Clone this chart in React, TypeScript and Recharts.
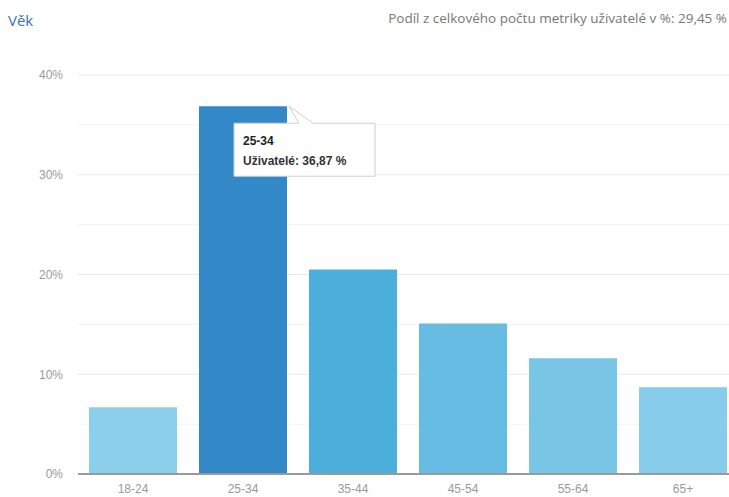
import { Bar, BarChart, CartesianGrid, Cell, LabelList, XAxis, YAxis } from "recharts";

const ageGroups = ["18-24", "25-34", "35-44", "45-54", "55-64", "65+"];
const userShare = [6.7, 36.87, 20.5, 15.1, 11.6, 8.7];
const barColors = ["#8ccfeb", "#3389c7", "#4cafdb", "#66bce2", "#78c5e6", "#87cdeb"];
const yTicks = [0, 10, 20, 30, 40];
const minorLines = [5, 15, 25, 35];
const highlighted = "25-34";

const data = ageGroups.map((g, i) => ({ age: g, value: userShare[i] }));

const FONT = "'Liberation Sans', Arial, sans-serif";

// callout drawn from the bar's own geometry
function Callout(props: any) {
  const { x, y, width, index, value } = props;
  if (ageGroups[index] !== highlighted) return null;
  const tipX = x + width;
  const tipY = y;
  const bx = x + 35;
  const by = y + 17;
  const bw = 141;
  const bh = 53;
  return (
    <g>
      <path
        d={`M${bx},${by} L${tipX + 12},${by} L${tipX + 2},${tipY} L${tipX + 26},${by} L${bx + bw},${by} L${bx + bw},${by + bh} L${bx},${by + bh} Z`}
        fill="#fff"
        stroke="#cfcfcf"
        strokeWidth={1}
      />
      <text x={bx + 9} y={by + 22} fontSize={12} fontWeight="bold" fill="#222" fontFamily={FONT}>
        {ageGroups[index]}
      </text>
      <text x={bx + 9} y={by + 42} fontSize={12} fontWeight="bold" fill="#333" fontFamily={FONT}>
        {`Uživatelé: ${String(value).replace(".", ",")} %`}
      </text>
    </g>
  );
}

export default function App() {
  return (
    <div style={{ position: "relative", width: 729, height: 497, overflow: "hidden", background: "#fff", fontFamily: FONT }}>
      <style>{`body{margin:0}`}</style>
      <div style={{ position: "absolute", left: 8, top: 10, fontSize: 15, color: "#3a72b8", fontFamily: "'Open Sans', sans-serif" }}>
        Věk
      </div>
      <div style={{ position: "absolute", right: 2, top: 9, fontSize: 13.5, color: "#777", fontFamily: "'Open Sans', sans-serif" }}>
        Podíl z celkového počtu metriky uživatelé v %: 29,45 %
      </div>
      <div style={{ position: "absolute", left: 0, top: 0 }}>
        <BarChart width={740} height={497} data={data} margin={{ top: 75, right: 2, left: 0, bottom: 0 }} barCategoryGap="10%">
          <CartesianGrid vertical={false} horizontalValues={minorLines} stroke="#f3f3f3" />
          <CartesianGrid vertical={false} horizontalValues={[10, 20, 30, 40]} stroke="#e8e8e8" />
          <YAxis
            domain={[0, 40]}
            ticks={yTicks}
            width={78}
            tickFormatter={(v) => `${v}%`}
            axisLine={false}
            tickLine={false}
            tickSize={0}
            tickMargin={15}
            tick={{ fontSize: 12, fill: "#9a9a9a", fontFamily: FONT }}
          />
          <XAxis
            dataKey="age"
            height={23}
            axisLine={{ stroke: "#9a9a9a", strokeWidth: 2 }}
            tickLine={false}
            tickSize={0}
            tickMargin={10}
            tick={{ fontSize: 12, fill: "#9a9a9a", fontFamily: FONT }}
          />
          <Bar dataKey="value" isAnimationActive={false}>
            {data.map((d, i) => (
              <Cell key={d.age} fill={barColors[i]} />
            ))}
            <LabelList dataKey="value" content={Callout} />
          </Bar>
        </BarChart>
      </div>
    </div>
  );
}
